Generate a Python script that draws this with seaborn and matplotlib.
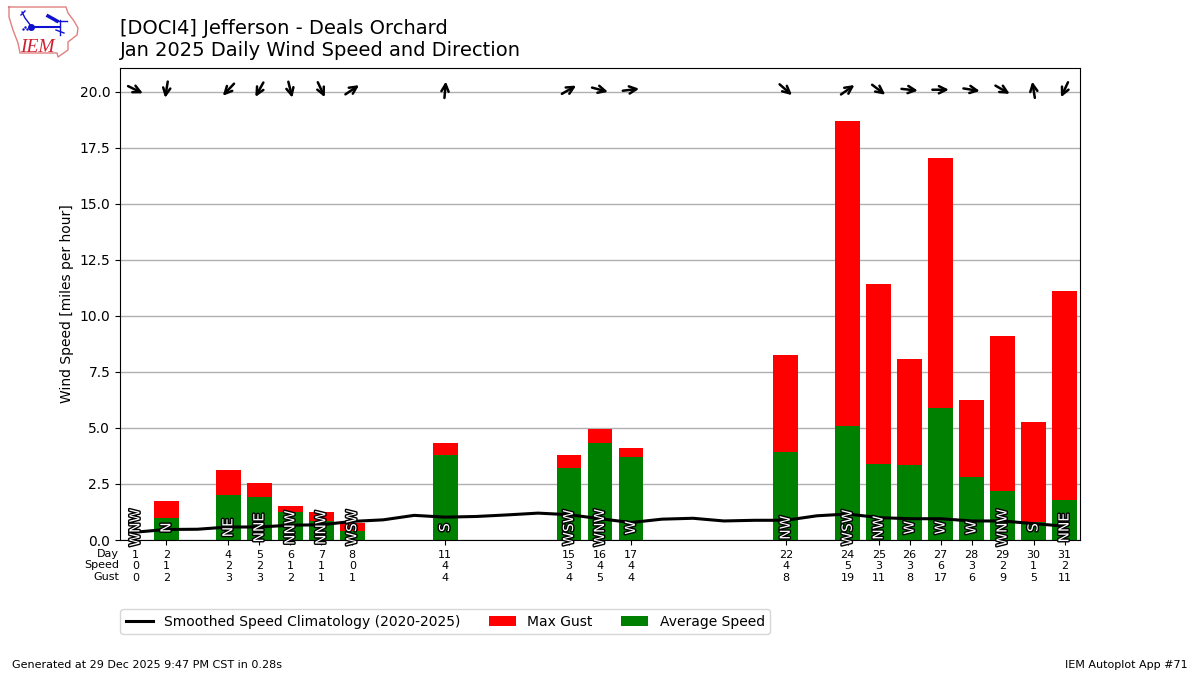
import numpy as np
import pandas as pd
import seaborn as sns
import matplotlib.pyplot as plt
import matplotlib.patheffects as pe

days = [1, 2, 4, 5, 6, 7, 8, 11, 15, 16, 17, 22, 24, 25, 26, 27, 28, 29, 30, 31]
avg_speed = [0.0, 1.0, 2.0, 1.9, 1.25, 0.85, 0.4, 3.8, 3.2, 4.35, 3.7, 3.95,
             5.1, 3.4, 3.35, 5.9, 2.8, 2.2, 0.8, 1.8]
max_gust = [0.0, 1.75, 3.13, 2.55, 1.5, 1.25, 0.75, 4.35, 3.8, 4.95, 4.1, 8.27,
            18.72, 11.43, 8.1, 17.05, 6.27, 9.12, 5.25, 11.12]
compass = ["WNW", "N", "NE", "NNE", "NNW", "NNW", "WSW", "S", "WSW", "WNW", "W", "NW",
           "WSW", "NW", "W", "W", "W", "WNW", "S", "NNE"]
# direction the wind came from, degrees
wind_dir = [296, 9, 43, 29, 346, 335, 236, 185, 240, 285, 263, 311,
            235, 307, 276, 270, 279, 300, 171, 25]
speed_labels = [0, 1, 2, 2, 1, 1, 0, 4, 3, 4, 4, 4, 5, 3, 3, 6, 3, 2, 1, 2]
gust_labels = [0, 2, 3, 3, 2, 1, 1, 4, 4, 5, 4, 8, 19, 11, 8, 17, 6, 9, 5, 11]

clim_days = list(range(1, 32))
clim_speed = [0.35, 0.47, 0.48, 0.58, 0.58, 0.66, 0.68, 0.83, 0.9, 1.1, 1.02,
              1.05, 1.12, 1.2, 1.13, 0.95, 0.78, 0.93, 0.97, 0.85, 0.88, 0.88,
              1.08, 1.16, 1.0, 0.95, 0.95, 0.85, 0.85, 0.73, 0.62]

df = pd.DataFrame({"day": days, "avg": avg_speed, "gust": max_gust})
clim_df = pd.DataFrame({"day": clim_days, "speed": clim_speed})

fig = plt.figure(figsize=(12, 6.75), dpi=100)
ax = fig.add_axes([0.1, 0.2, 0.8, 472 / 675])

sns.barplot(data=df, x="day", y="gust", native_scale=True, color="red",
            saturation=1, width=0.8, label="Max Gust", ax=ax, zorder=2)
sns.barplot(data=df, x="day", y="avg", native_scale=True, color="green",
            saturation=1, width=0.8, label="Average Speed", ax=ax, zorder=2)
sns.lineplot(data=clim_df, x="day", y="speed", color="k", lw=2.2, ax=ax, zorder=4,
             label="Smoothed Speed Climatology (2020-2025)")

ax.set_xlim(0.5, 31.5)
ax.set_ylim(0, 21.07)

# half an arrow, in data units on each axis (about 8 px on screen)
half_x = 8.25 / 30.97
half_y = 8.25 / 22.4

# arrows along the top and direction names on the bars
for day, label, deg in zip(days, compass, wind_dir):
    dx = half_x * np.sin(np.radians(deg))
    dy = half_y * np.cos(np.radians(deg))
    ax.annotate("", xy=(day - dx, 20.1 - dy), xytext=(day + dx, 20.1 + dy),
                arrowprops=dict(arrowstyle="->", color="k", lw=1.8, shrinkA=0, shrinkB=0,
                                mutation_scale=13),
                annotation_clip=False, zorder=5)
    ax.text(day, 0.55, label, rotation=90, ha="center", va="center", fontsize=10,
            color="white", zorder=6, clip_on=False,
            path_effects=[pe.withStroke(linewidth=2, foreground="k")])

ax.set_yticks(np.arange(0, 20.1, 2.5))
ax.grid(axis="y", color="#b0b0b0", lw=1)
ax.grid(axis="x", visible=False)
ax.set_axisbelow(True)
ax.set_ylabel("Wind Speed [miles per hour]")
ax.set_xlabel("")
ax.set_xticks(days)
ax.set_xticklabels([f"{d}\n{s}\n{g}" for d, s, g in zip(days, speed_labels, gust_labels)],
                   fontsize=8)
ax.text(-0.001, -0.0185, "Day\nSpeed\nGust", transform=ax.transAxes, ha="right", va="top",
        fontsize=8)

handles, labels = ax.get_legend_handles_labels()
order = [labels.index(n) for n in ["Smoothed Speed Climatology (2020-2025)", "Max Gust", "Average Speed"]]
ax.legend([handles[i] for i in order], [labels[i] for i in order], ncol=3, loc="upper left",
          bbox_to_anchor=(0.1, 1 - 609 / 675), bbox_transform=fig.transFigure, borderaxespad=0)

fig.text(0.1, 0.9104, "[DOCI4] Jefferson - Deals Orchard\nJan 2025 Daily Wind Speed and Direction",
         fontsize=14, ha="left", va="bottom")
fig.text(0.01, 0.01, "Generated at 29 Dec 2025 9:47 PM CST in 0.28s", fontsize=8)
fig.text(0.99, 0.01, "IEM Autoplot App #71", fontsize=8, ha="right")

# logo, drawn in pixels of the top left corner
logo = fig.add_axes([0, 1 - 64 / 675, 90 / 1200, 64 / 675])
logo.set_xlim(0, 90)
logo.set_ylim(64, 0)
logo.axis("off")
logo.plot([9, 66, 68, 74, 78, 77, 68, 68, 58, 57, 20, 18, 13, 9, 9],
          [7, 7, 13, 21, 28, 35, 42, 50, 57, 53, 53, 43, 30, 17, 7], color="#e08080", lw=1)
blue = "#1010d0"
logo.plot([31, 60], [26.5, 26.5], color=blue, lw=1.5)
logo.plot([22, 25, 31], [12, 18, 26], color=blue, lw=1)
logo.plot([21, 25], [15, 11], color=blue, lw=1)
logo.plot([31], [26.5], "o", color=blue, ms=4)
logo.plot([48, 57], [16, 21], color=blue, lw=2.5)
logo.plot([55, 67], [21, 21], color=blue, lw=1)
logo.plot([60, 60], [20, 35], color=blue, lw=1)
logo.plot([56, 64], [30, 33], color=blue, lw=1)
logo.plot([23, 25, 27], [29, 27, 29], ".", color=blue, ms=1.5)
logo.text(20.5, 52, "IEM", color="#d02030", fontsize=14, family="Liberation Serif", style="italic")

fig.savefig("out.png", dpi=100)
